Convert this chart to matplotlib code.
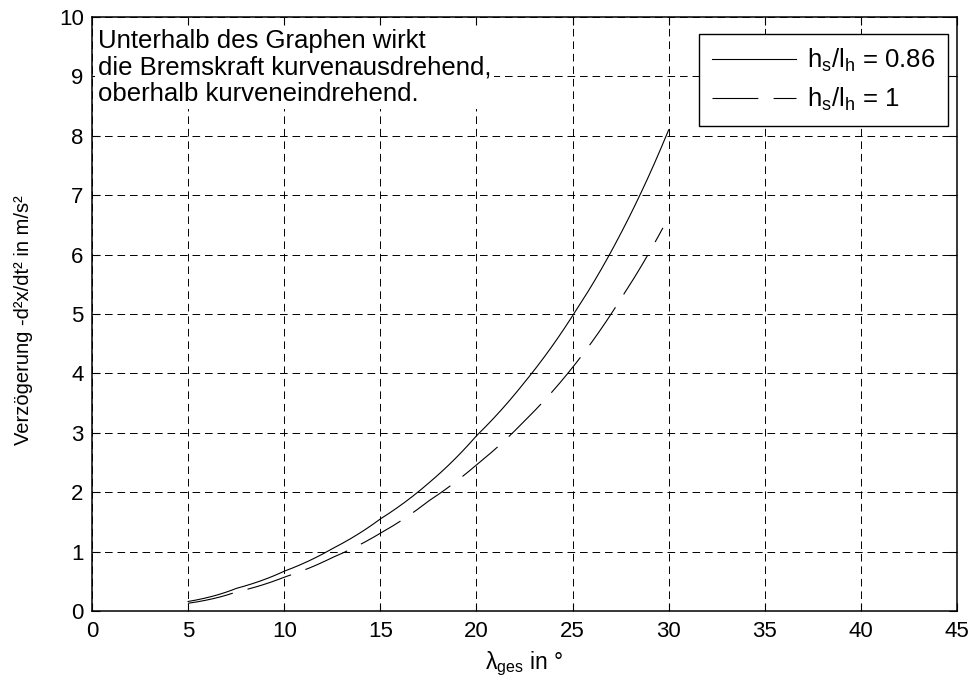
import numpy as np
import matplotlib
matplotlib.use("Agg")
import matplotlib.pyplot as plt

plt.rcParams['font.family'] = ['Liberation Sans', 'DejaVu Sans']
plt.rcParams['mathtext.fontset'] = 'custom'
plt.rcParams['mathtext.rm'] = 'Liberation Sans'
plt.rcParams['mathtext.it'] = 'Liberation Sans:italic'
plt.rcParams['lines.scale_dashes'] = False

# data
lam_solid = [5, 7.5, 10, 12.5, 15, 17.5, 20, 22.5, 25, 27.5, 30]
dec_solid = [0.16, 0.38, 0.67, 1.05, 1.55, 2.15, 2.95, 3.85, 4.97, 6.35, 8.1]
lam_dash = [5, 7.5, 10, 12.5, 15, 17.5, 20, 22.5, 25, 27.5, 29.7]
dec_dash = [0.13, 0.32, 0.57, 0.9, 1.31, 1.85, 2.46, 3.2, 4.1, 5.25, 6.45]
xticks = list(range(0, 50, 5))
yticks = list(range(0, 11))

fig = plt.figure(figsize=(9.74, 6.81), dpi=100)
ax = fig.add_axes([0.0945, 0.1028, 0.888, 0.8722])

# dense curve through the read points
xs = np.linspace(lam_solid[0], lam_solid[-1], 300)
ys = np.exp(np.interp(xs, lam_solid, np.log(dec_solid)))
xd = np.linspace(lam_dash[0], lam_dash[-1], 300)
yd = np.exp(np.interp(xd, lam_dash, np.log(dec_dash)))

ax.plot(xs, ys, color='black', lw=0.8, label=r'$\mathrm{h_s/l_h}$ = 0.86')
ax.plot(xd, yd, color='black', lw=0.8, dashes=(33, 11),
        label=r'$\mathrm{h_s/l_h}$ = 1')

ax.set_xlim(0, 45)
ax.set_ylim(0, 10)
ax.set_xticks(xticks)
ax.set_yticks(yticks)
ax.tick_params(direction='in', top=True, right=True, labelsize=16, length=6,
               width=0.8)
ax.tick_params(axis='x', pad=7)
ax.tick_params(axis='y', pad=6)
ax.grid(True, color='black', lw=0.7, dashes=(5.5, 3.5))
for s in ax.spines.values():
    s.set_linewidth(1.1)

ax.set_xlabel(r'$\mathrm{\lambda_{ges}}$ in °', fontsize=16.5, labelpad=6)
ax.set_ylabel('Verzögerung -d²x/dt² in m/s²', fontsize=14.5)
ax.yaxis.set_label_coords(-0.068, 0.49)

ax.text(0.007, 0.979,
        'Unterhalb des Graphen wirkt\ndie Bremskraft kurvenausdrehend,\noberhalb kurveneindrehend.',
        transform=ax.transAxes, ha='left', va='top', fontsize=18.5,
        linespacing=1.12,
        bbox=dict(facecolor='white', edgecolor='none', pad=2))

leg = ax.legend(loc='upper right', bbox_to_anchor=(0.9896, 0.9714),
                borderaxespad=0, fontsize=18.5, handlelength=3.3,
                fancybox=False, framealpha=1, edgecolor='black',
                handletextpad=0.4, labelspacing=0.45, borderpad=0.5)
leg.get_frame().set_linewidth(1.0)

fig.savefig('out.png', dpi=100)
